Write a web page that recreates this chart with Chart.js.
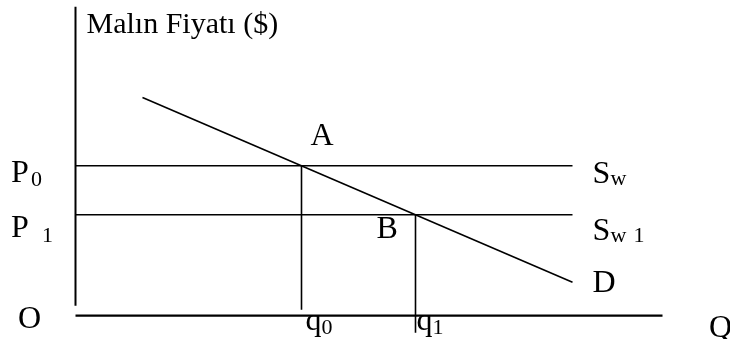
<!DOCTYPE html>
<html>
<head>
<meta charset="utf-8">
<script src="https://cdn.jsdelivr.net/npm/chart.js@4.4.1/dist/chart.umd.min.js"></script>
<style>
  html, body { margin: 0; padding: 0; background: #fff; }
  #grafik { display: block; }
</style>
</head>
<body>
<canvas id="grafik" width="730" height="339"></canvas>
<script>
// Değerler (diyagram birimleri, orijin O)
const fiyatSeviyeleri = [150, 101];          // P0, P1
const fiyatEtiketleri = ['0', '1'];
const miktarlar = [226, 340];                // q0, q1
const miktarEtiketleri = ['0', '1'];
const talepMiktar = [67, 497];               // D doğrusu uçları
const talepFiyat = [218.3, 33.5];
const arzBitis = 497;                        // Sw, Sw1 bitişi
const eksenFiyatUst = 309;
const eksenFiyatAlt = 10;
const eksenMiktarSon = 587;
const q0Alt = 6;
const q1Alt = -17;

function cizgi(noktalar, kalinlik) {
    return {
        data: noktalar,
        showLine: true,
        borderColor: '#000',
        borderWidth: kalinlik,
        pointRadius: 0,
        fill: false
    };
}

const veriSetleri = [
    cizgi([{x: 0, y: eksenFiyatAlt}, {x: 0, y: eksenFiyatUst}], 2),
    cizgi([{x: 0, y: 0}, {x: eksenMiktarSon, y: 0}], 2.2),
    cizgi([{x: 0, y: fiyatSeviyeleri[0]}, {x: arzBitis, y: fiyatSeviyeleri[0]}], 1.6),
    cizgi([{x: 0, y: fiyatSeviyeleri[1]}, {x: arzBitis, y: fiyatSeviyeleri[1]}], 1.6),
    cizgi([{x: talepMiktar[0], y: talepFiyat[0]}, {x: talepMiktar[1], y: talepFiyat[1]}], 1.6),
    cizgi([{x: miktarlar[0], y: fiyatSeviyeleri[0]}, {x: miktarlar[0], y: q0Alt}], 1.6),
    cizgi([{x: miktarlar[1], y: fiyatSeviyeleri[1]}, {x: miktarlar[1], y: q1Alt}], 1.6)
];

// Yazılar
const yaziEklentisi = {
    id: 'yazilar',
    afterDatasetsDraw(chart) {
        const ctx = chart.ctx;
        const xs = chart.scales.x, ys = chart.scales.y;
        const ana = '32px "Liberation Serif", "Times New Roman", serif';
        const alt = '22px "Liberation Serif", "Times New Roman", serif';
        ctx.save();
        ctx.fillStyle = '#000';
        ctx.textAlign = 'left';
        ctx.textBaseline = 'alphabetic';
        function yaz(t, x, y, f) { ctx.font = f; ctx.fillText(t, x, y); }

        const x0 = xs.getPixelForValue(0);
        const y0 = ys.getPixelForValue(0);

        yaz('Malın Fiyatı ($)', x0 + 11, ys.getPixelForValue(eksenFiyatUst) + 26,
            '30px "Liberation Serif", "Times New Roman", serif');

        // P0, P1
        const p0y = ys.getPixelForValue(fiyatSeviyeleri[0]);
        const p1y = ys.getPixelForValue(fiyatSeviyeleri[1]);
        yaz('P', 11, p0y + 16, ana);
        yaz(fiyatEtiketleri[0], 31, p0y + 20, alt);
        yaz('P', 11, p1y + 22, ana);
        yaz(fiyatEtiketleri[1], 42, p1y + 27, alt);

        yaz('O', 18, y0 + 12, ana);
        yaz('Q', 709, y0 + 21, ana);

        // q0, q1
        const q0x = xs.getPixelForValue(miktarlar[0]);
        const q1x = xs.getPixelForValue(miktarlar[1]);
        yaz('q', q0x + 4, y0 + 14, ana);
        yaz(miktarEtiketleri[0], q0x + 20, y0 + 18, alt);
        yaz('q', q1x + 1, y0 + 14, ana);
        yaz(miktarEtiketleri[1], q1x + 17, y0 + 18, alt);

        // A, B
        yaz('A', q0x + 9, p0y - 21, ana);
        yaz('B', q1x - 39, p1y + 23, ana);

        // Sw, Sw1, D
        const sx = xs.getPixelForValue(arzBitis) + 20;
        yaz('S', sx, p0y + 17, ana);
        yaz('w', sx + 18, p0y + 19, alt);
        yaz('S', sx, p1y + 25, ana);
        yaz('w', sx + 18, p1y + 27, alt);
        yaz('1', sx + 41, p1y + 27, alt);
        yaz('D', sx, ys.getPixelForValue(talepFiyat[1]) + 10, ana);
        ctx.restore();
    }
};

new Chart(document.getElementById('grafik').getContext('2d'), {
    type: 'scatter',
    data: { datasets: veriSetleri },
    options: {
        responsive: false,
        animation: false,
        layout: { padding: 0 },
        plugins: {
            legend: { display: false },
            tooltip: { enabled: false }
        },
        scales: {
            x: { type: 'linear', min: -75.5, max: 654.5, display: false },
            y: { type: 'linear', min: -23.3, max: 315.7, display: false }
        }
    },
    plugins: [yaziEklentisi]
});
</script>
</body>
</html>
